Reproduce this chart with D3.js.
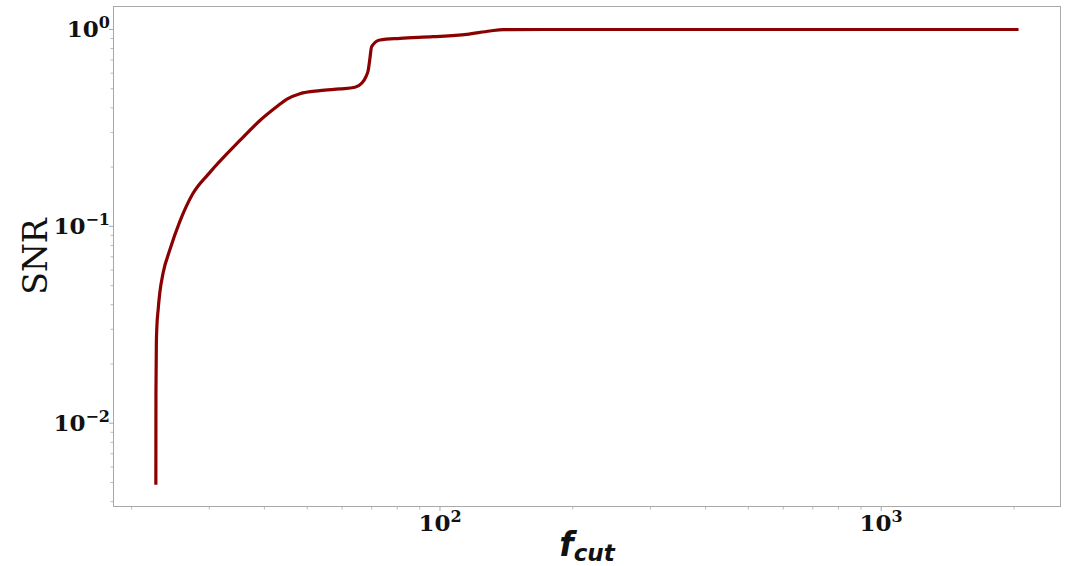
<!DOCTYPE html>
<html>
<head>
<meta charset="utf-8">
<script src="https://cdn.jsdelivr.net/npm/d3@7"></script>
<style>
  html, body { margin: 0; padding: 0; background: #fff; }
  svg { display: block; }
</style>
</head>
<body>
<svg id="chart" width="1071" height="566"></svg>
<script>
// Cut-off frequency (Hz) and the resulting normalised SNR
const freq = [22.7, 22.71, 22.76, 22.82, 22.97, 23.17, 23.58, 24.42, 25.73, 27.5,
              30.1, 35.2, 39.08, 42.63, 45.0, 48.14, 53.45, 59.33, 64.16, 66.44,
              67.96, 68.78, 69.3, 70.0, 73.1, 81.18, 96.4, 115, 129.8, 139,
              177, 500, 2048];
const snr  = [0.00487, 0.0143, 0.0256, 0.0309, 0.0377, 0.046, 0.0581, 0.076, 0.106, 0.146,
              0.188, 0.273, 0.345, 0.405, 0.443, 0.472, 0.489, 0.499, 0.5087, 0.533,
              0.576, 0.623, 0.70, 0.818, 0.8844, 0.902, 0.919, 0.945, 0.9826, 0.998,
              1.0, 1.0, 1.0];

const xTickExps = [2, 3];
const yTickExps = [0, -1, -2];
const xLabel = "f", xLabelSub = "cut";
const yLabel = "SNR";

const W = 1071, H = 566;
const box = { left: 113, right: 1061, top: 6, bottom: 507 };
const grey = "#a8a8a8";

const x = d3.scaleLog().domain([18.15, 2556]).range([box.left, box.right]);
const y = d3.scaleLog().domain([0.003755, 1.316]).range([box.bottom, box.top]);

const svg = d3.select("#chart");
svg.append("rect").attr("width", W).attr("height", H).attr("fill", "#fff");

// minor ticks
const xMinor = [];
for (let e = 1; e <= 3; e++) for (let m = 2; m <= 9; m++) {
  const v = m * Math.pow(10, e);
  if (v >= x.domain()[0] && v <= x.domain()[1]) xMinor.push(v);
}
const yMinor = [];
for (let e = -3; e <= 0; e++) for (let m = 2; m <= 9; m++) {
  const v = m * Math.pow(10, e);
  if (v >= y.domain()[0] && v <= y.domain()[1]) yMinor.push(v);
}

const xAxis = svg.append("g").attr("transform", `translate(0,${box.bottom})`);
xAxis.selectAll("line.minor").data(xMinor).join("line")
  .attr("x1", d => x(d)).attr("x2", d => x(d)).attr("y1", 0).attr("y2", 2.5)
  .attr("stroke", grey).attr("stroke-width", 0.8);
xAxis.selectAll("line.major").data(xTickExps).join("line")
  .attr("x1", d => x(Math.pow(10, d))).attr("x2", d => x(Math.pow(10, d)))
  .attr("y1", 0).attr("y2", 4).attr("stroke", grey).attr("stroke-width", 1);

const yAxis = svg.append("g").attr("transform", `translate(${box.left},0)`);
yAxis.selectAll("line.minor").data(yMinor).join("line")
  .attr("y1", d => y(d)).attr("y2", d => y(d)).attr("x1", 0).attr("x2", -2.5)
  .attr("stroke", grey).attr("stroke-width", 0.8);
yAxis.selectAll("line.major").data(yTickExps).join("line")
  .attr("y1", d => y(Math.pow(10, d))).attr("y2", d => y(Math.pow(10, d)))
  .attr("x1", 0).attr("x2", -4).attr("stroke", grey).attr("stroke-width", 1);

// frame
svg.append("rect")
  .attr("x", box.left + 0.5).attr("y", box.top + 0.5)
  .attr("width", box.right - box.left - 1).attr("height", box.bottom - box.top - 1)
  .attr("fill", "none").attr("stroke", grey).attr("stroke-width", 1);

const fmtExp = e => (e < 0 ? "\u2212" + Math.abs(e) : String(e));
const tickFont = "'DejaVu Serif', serif";

// x tick labels
const xl = svg.append("g").selectAll("text").data(xTickExps).join("text")
  .attr("x", d => x(Math.pow(10, d)))
  .attr("y", 531)
  .attr("text-anchor", "middle")
  .attr("font-family", tickFont).attr("font-weight", "bold")
  .attr("font-size", 23).attr("fill", "#111");
xl.append("tspan").text("10");
xl.append("tspan").attr("dy", -9).attr("font-size", 16).text(d => fmtExp(d));

// y tick labels
const yl = svg.append("g").selectAll("text").data(yTickExps).join("text")
  .attr("x", 110)
  .attr("y", d => y(Math.pow(10, d)) + 8)
  .attr("text-anchor", "end")
  .attr("font-family", tickFont).attr("font-weight", "bold")
  .attr("font-size", 23).attr("fill", "#111");
yl.append("tspan").text("10");
yl.append("tspan").attr("dy", -9).attr("font-size", 16).text(d => fmtExp(d));

// axis titles
svg.append("text")
  .attr("transform", `translate(47,${(box.top + box.bottom) / 2}) rotate(-90)`)
  .attr("text-anchor", "middle")
  .attr("font-family", tickFont).attr("font-size", 33).attr("fill", "#111")
  .text(yLabel);

const xt = svg.append("text")
  .attr("x", (box.left + box.right) / 2).attr("y", 556)
  .attr("text-anchor", "middle")
  .attr("font-family", "'DejaVu Sans', sans-serif")
  .attr("font-weight", "bold").attr("font-style", "italic")
  .attr("font-size", 33).attr("fill", "#111");
xt.append("tspan").text(xLabel);
xt.append("tspan").attr("dy", 5).attr("font-size", 23).text(xLabelSub);

// SNR curve
const pts = freq.map((f, i) => [f, snr[i]]);
const line = d3.line()
  .x(d => x(d[0])).y(d => y(d[1]))
  .curve(d3.curveMonotoneX);
svg.append("path")
  .datum(pts)
  .attr("d", line)
  .attr("fill", "none")
  .attr("stroke", "#8b0000")
  .attr("stroke-width", 3.2)
  .attr("stroke-linejoin", "round");
</script>
</body>
</html>
